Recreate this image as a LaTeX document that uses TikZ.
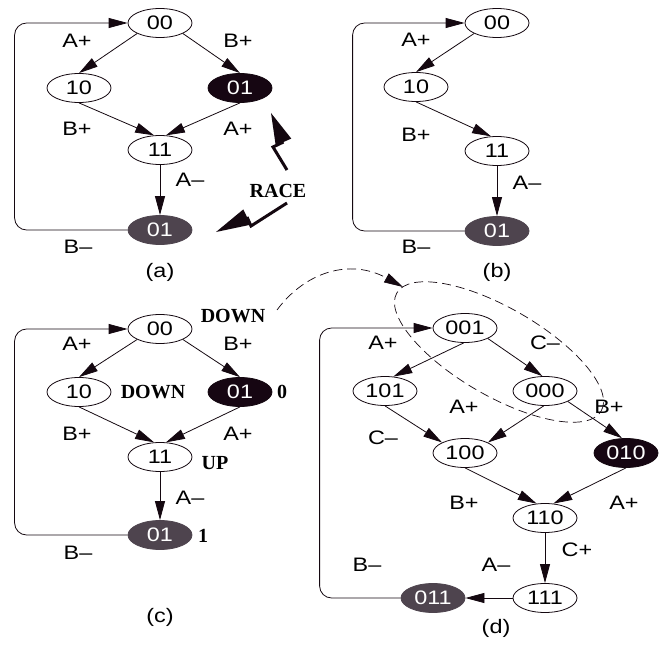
\documentclass[tikz,border=0pt]{standalone}
\usepackage{fontspec}
\newfontfamily\labfont[FakeStretch=1.2]{Liberation Sans}
\newfontfamily\serfont{Liberation Serif}
\usetikzlibrary{arrows.meta,shapes.geometric}
\definecolor{ink}{RGB}{20,8,16}
\definecolor{darkfill}{RGB}{22,6,18}
\definecolor{grayfill}{RGB}{78,68,78}
\begin{document}
\begin{tikzpicture}[x=1bp,y=-1bp,
  st/.style={ellipse, draw=ink, line width=0.8bp, minimum width=64bp, minimum height=29bp, inner sep=0pt, font=\labfont\fontsize{19.5bp}{21bp}\selectfont},
  blk/.style={st, fill=darkfill, text=white},
  gry/.style={st, fill=grayfill, draw=grayfill, text=white},
  lab/.style={font=\labfont\fontsize{19.5bp}{21bp}\selectfont, inner sep=0pt},
  bld/.style={font=\serfont\bfseries\fontsize{20bp}{22bp}\selectfont, inner sep=0pt},
  edge/.style={draw=ink, line width=0.8bp, -{Triangle[length=19bp,width=10bp]}},
  loope/.style={edge, rounded corners=12bp},
  bolt/.style={draw=ink, line width=3bp},
]
\useasboundingbox (0,0) rectangle (661,645);

% ---------------- panel (a)
\node[st]  (a00) at (160,23) {00};
\node[st]  (a10) at (79,88) {10};
\node[blk] (a01b) at (240,88) {01};
\node[st]  (a11) at (160,150) {11};
\node[gry] (a01g) at (160,230) {01};
\draw[edge] (a00.south west) -- (a10.north);
\draw[edge] (a00.south east) -- (a01b.north);
\draw[edge] (a10.south) -- (a11.112);
\draw[edge] (a01b.south) -- (a11.68);
\draw[edge] (a11.south) -- (a01g.north);
\draw[loope] (a01g.west) -- ++(-113,0) |- (a00.west);
\node[lab] (aAp1) at (77,41) {A+};
\node[lab] (aBp1) at (238,41) {B+};
\node[lab] (aBp2) at (77,129) {B+};
\node[lab] (aAp2) at (238,129) {A+};
\node[lab] (aAm) at (190,180) {A–};
\node[lab] (aBm) at (78,247) {B–};
\node[lab] (acap) at (160,272) {(a)};
\node[bld] (race) at (278,191) {RACE};
% lightning bolts
\draw[bolt] (287,170) -- (273,147) -- (283.5,142);
\fill[ink] (271,113) -- (291.3,138.6) -- (275.7,145.4) -- cycle;
\draw[bolt] (287,203) -- (251,226) -- (247,217);
\fill[ink] (216,232) -- (243.3,209.4) -- (250.7,224.7) -- cycle;

% ---------------- panel (b)
\node[st]  (b00) at (497,23) {00};
\node[st]  (b10) at (416,87) {10};
\node[st]  (b11) at (497,151) {11};
\node[gry] (b01g) at (497,231) {01};
\draw[edge] (b00.south west) -- (b10.north);
\draw[edge] (b10.south) -- (b11.112);
\draw[edge] (b11.south) -- (b01g.north);
\draw[loope] (b01g.west) -- ++(-112,0) |- (b00.west);
\node[lab] (bAp) at (416,40) {A+};
\node[lab] (bBp) at (416,135) {B+};
\node[lab] (bAm) at (527,183) {A–};
\node[lab] (bBm) at (416,247) {B–};
\node[lab] (bcap) at (497,272) {(b)};

% ---------------- panel (c)
\node[st]  (c00) at (160,329) {00};
\node[st]  (c10) at (79,392) {10};
\node[blk] (c01b) at (240,392) {01};
\node[st]  (c11) at (160,457) {11};
\node[gry] (c01g) at (160,535) {01};
\draw[edge] (c00.south west) -- (c10.north);
\draw[edge] (c00.south east) -- (c01b.north);
\draw[edge] (c10.south) -- (c11.112);
\draw[edge] (c01b.south) -- (c11.68);
\draw[edge] (c11.south) -- (c01g.north);
\draw[loope] (c01g.west) -- ++(-113,0) |- (c00.west);
\node[bld] (cdown1) at (233,316) {DOWN};
\node[lab] (cAp1) at (77,344) {A+};
\node[lab] (cBp1) at (238,344) {B+};
\node[bld] (cdown2) at (153,392) {DOWN};
\node[bld] (czero) at (282,392) {0};
\node[lab] (cBp2) at (77,434) {B+};
\node[lab] (cAp2) at (238,434) {A+};
\node[bld] (cup) at (215,463) {UP};
\node[lab] (cAm) at (190,498) {A–};
\node[bld] (cone) at (203,536) {1};
\node[lab] (cBm) at (78,553) {B–};
\node[lab] (ccap) at (160,617) {(c)};

% ---------------- panel (d)
\node[st]  (d001) at (465,328) {001};
\node[st]  (d101) at (385,391) {101};
\node[st]  (d000) at (545,391) {000};
\node[st]  (d100) at (465,453) {100};
\node[blk] (d010) at (626,453) {010};
\node[st]  (d110) at (545,518) {110};
\node[st]  (d111) at (545,598) {111};
\node[gry] (d011) at (433,598) {011};
\draw[edge] (d001.265) -- (d101.60);
\draw[edge] (d001.south east) -- (d000.100);
\draw[edge] (d101.south) -- (d100.north west);
\draw[edge] (d000.265) -- (d100.north east);
\draw[edge] (d000.south east) -- (d010.105);
\draw[edge] (d100.south) -- (d110.120);
\draw[edge] (d010.south) -- (d110.60);
\draw[edge] (d110.south) -- (d111.north);
\draw[edge] (d111.west) -- (d011.east);
\draw[loope] (d011.west) -- ++(-81,0) |- (d001.west);
\node[lab] (dAp1) at (383,343) {A+};
\node[lab] (dCm1) at (545,343) {C–};
\node[lab] (dAp2) at (464,407) {A+};
\node[lab] (dBp1) at (609,407) {B+};
\node[lab] (dCm2) at (383,438) {C–};
\node[lab] (dBp2) at (464,503) {B+};
\node[lab] (dAp3) at (624,503) {A+};
\node[lab] (dCp) at (577,550) {C+};
\node[lab] (dAm) at (496,565) {A–};
\node[lab] (dBm) at (367,565) {B–};
\node[lab] (dcap) at (496,628) {(d)};

% dashed grouping ellipse and dashed arrow
\node[ellipse, draw=ink, line width=0.7bp, dash pattern=on 9bp off 5bp,
      minimum width=236bp, minimum height=88bp, rotate=-30] (grp) at (499,352) {};
\coordinate (dstart) at (277,310);
\coordinate (dend) at (403,287);
\draw[draw=ink, line width=0.7bp, dash pattern=on 9bp off 5bp, -{Triangle[length=19bp,width=10bp]}]
  (dstart) .. controls (305,272) and (350,258) .. (dend);
\end{tikzpicture}
\end{document}
